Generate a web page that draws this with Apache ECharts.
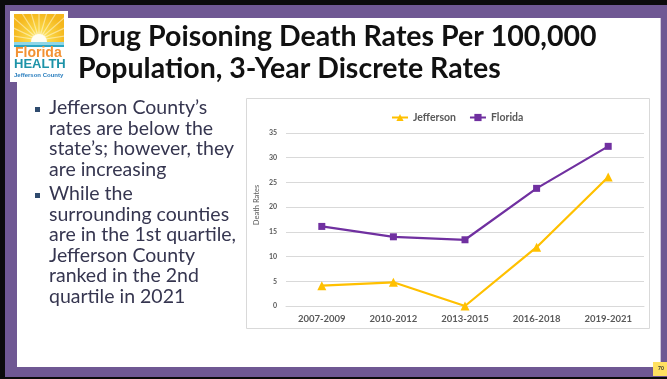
<!DOCTYPE html>
<html>
<head>
<meta charset="utf-8">
<script src="https://cdn.jsdelivr.net/npm/echarts@6/dist/echarts.min.js"></script>
<style>
  html, body { margin: 0; padding: 0; background: #000; overflow: hidden; }
  #slide { width: 667px; height: 379px; }
</style>
</head>
<body>
<div id="slide"></div>
<script>
// Three-year periods and drug poisoning death rates per 100,000
const periods = ['2007-2009', '2010-2012', '2013-2015', '2016-2018', '2019-2021'];
const jeffersonRates = [4.1, 4.8, 0, 11.9, 26.1];
const floridaRates = [16.1, 14.0, 13.4, 23.8, 32.3];
const yTicks = { min: 0, max: 35, step: 5 };

const titleLines = ['Drug Poisoning Death Rates Per 100,000', 'Population, 3-Year Discrete Rates'];
const bulletOne = ['Jefferson County\u2019s', 'rates are below the', 'state\u2019s; however, they', 'are increasing'];
const bulletTwo = ['While the', 'surrounding counties', 'are in the 1st quartile,', 'Jefferson County', 'ranked in the 2nd', 'quartile in 2021'];

const PURPLE = '#6f5893';
const TEXT_FONT = 'Lato, "Open Sans", sans-serif';

const chart = echarts.init(document.getElementById('slide'), null, { renderer: 'canvas' });

// Slide frame, logo, title and bullet text
const graphics = [];
graphics.push({ type: 'rect', z: -10, shape: { x: 0, y: 0, width: 667, height: 379 }, style: { fill: '#0b0b0b' } });
graphics.push({ type: 'rect', z: -9, shape: { x: 5, y: 5, width: 662, height: 372 }, style: { fill: PURPLE } });
graphics.push({ type: 'rect', z: -8, shape: { x: 17, y: 18, width: 644, height: 349 }, style: { fill: '#ffffff' } });
graphics.push({ type: 'line', z: -7, shape: { x1: 660.5, y1: 18, x2: 660.5, y2: 367 }, style: { stroke: '#cfc7da', lineWidth: 1 } });

// Logo
graphics.push({ type: 'rect', z: -6, shape: { x: 10, y: 11, width: 58, height: 71 }, style: { fill: '#ffffff' } });
graphics.push({
  type: 'rect', z: -5, shape: { x: 14, y: 14, width: 50, height: 30 },
  style: { fill: new echarts.graphic.RadialGradient(0.5, 0.85, 0.9, [
    { offset: 0, color: '#fff6c8' }, { offset: 0.35, color: '#fbd94a' }, { offset: 1, color: '#f5b71c' }]) }
});
const rays = [];
for (let i = 0; i < 11; i++) {
  const a = Math.PI * (0.05 + 0.9 * i / 10);
  rays.push({ type: 'line', z: -4, shape: { x1: 39, y1: 40, x2: 39 - Math.cos(a) * 34, y2: 40 - Math.sin(a) * 34 },
    style: { stroke: 'rgba(255,250,220,0.55)', lineWidth: 1.2 } });
}
graphics.push({ type: 'group', clipPath: { type: 'rect', shape: { x: 14, y: 14, width: 50, height: 30 } }, children: rays });
graphics.push({ type: 'circle', z: -3, shape: { cx: 39, cy: 42, r: 8 }, style: { fill: '#fffdf2' } });
graphics.push({ type: 'rect', z: -2, shape: { x: 14, y: 42, width: 50, height: 3 }, style: { fill: '#8fd6e6' } });
graphics.push({ type: 'rect', z: -2, shape: { x: 14, y: 45, width: 50, height: 2 }, style: { fill: '#2aa6c4' } });
graphics.push({ type: 'text', left: 15, top: 46, style: { text: 'Florida', font: 'bold 14px "Liberation Sans", Arial, sans-serif', fill: '#f29233' } });
graphics.push({ type: 'text', left: 14, top: 58, style: { text: 'HEALTH', font: 'bold 13px "Liberation Sans", Arial, sans-serif', fill: '#1d93a8' } });
graphics.push({ type: 'text', left: 14, top: 72, style: { text: 'Jefferson County', font: 'bold 6px "Liberation Sans", Arial, sans-serif', fill: '#2b7fbf' } });

// Title
titleLines.forEach((line, i) => {
  graphics.push({ type: 'text', left: 78, top: 22 + i * 32,
    style: { text: line, font: 'bold 28.5px ' + TEXT_FONT, fill: '#111111' } });
});

// Bullets
function addBullet(lines, firstY) {
  graphics.push({ type: 'rect', shape: { x: 35, y: firstY - 3, width: 5, height: 5 }, style: { fill: '#2f4b6e' } });
  lines.forEach((line, i) => {
    graphics.push({ type: 'text', left: 49, top: firstY - 12 + i * 20.5,
      style: { text: line, font: '19.5px ' + TEXT_FONT, fill: '#363650' } });
  });
}
addBullet(bulletOne, 110);
addBullet(bulletTwo, 196);

// Chart panel border
graphics.push({ type: 'rect', z: -1, shape: { x: 246.5, y: 98.5, width: 403, height: 230 }, style: { fill: 'none', stroke: '#d9d9d9', lineWidth: 1 } });

// Y axis title
graphics.push({ type: 'text', x: 257, y: 205, rotation: Math.PI / 2,
  style: { text: 'Death Rates', font: '7.5px ' + TEXT_FONT, fill: '#595959', align: 'center', verticalAlign: 'middle' } });

// Page number tab
graphics.push({ type: 'rect', shape: { x: 653, y: 362, width: 14, height: 14 }, style: { fill: '#ffe161' } });
graphics.push({ type: 'text', left: 658, top: 366, style: { text: '70', font: 'bold 5px ' + TEXT_FONT, fill: '#333' } });

chart.setOption({
  animation: false,
  backgroundColor: 'transparent',
  graphic: { elements: graphics },
  legend: {
    top: 107,
    left: 386,
    itemWidth: 16,
    itemHeight: 9,
    itemGap: 13,
    textStyle: { fontFamily: TEXT_FONT, fontSize: 10.5, fontWeight: 'bold', color: '#595959' },
    data: ['Jefferson', 'Florida']
  },
  grid: { left: 286, right: 23, top: 133, bottom: 73, containLabel: false },
  xAxis: {
    type: 'category',
    data: periods,
    boundaryGap: true,
    axisLine: { show: true, lineStyle: { color: '#d9d9d9' } },
    axisTick: { show: false },
    axisLabel: { fontFamily: TEXT_FONT, fontSize: 9.5, fontWeight: 'bold', color: '#595959', margin: 8 }
  },
  yAxis: {
    type: 'value',
    min: yTicks.min,
    max: yTicks.max,
    interval: yTicks.step,
    axisLine: { show: false },
    axisTick: { show: false },
    splitLine: { lineStyle: { color: '#d9d9d9', width: 1 } },
    axisLabel: { fontFamily: TEXT_FONT, fontSize: 7, fontWeight: 'bold', color: '#595959', margin: 9 }
  },
  series: [
    {
      name: 'Jefferson', type: 'line', data: jeffersonRates,
      symbol: 'triangle', symbolSize: 9, showAllSymbol: true,
      lineStyle: { color: '#ffc000', width: 2.25 },
      itemStyle: { color: '#ffc000' }
    },
    {
      name: 'Florida', type: 'line', data: floridaRates,
      symbol: 'rect', symbolSize: 7, showAllSymbol: true,
      lineStyle: { color: '#7030a0', width: 2.25 },
      itemStyle: { color: '#7030a0' }
    }
  ]
});
</script>
</body>
</html>
